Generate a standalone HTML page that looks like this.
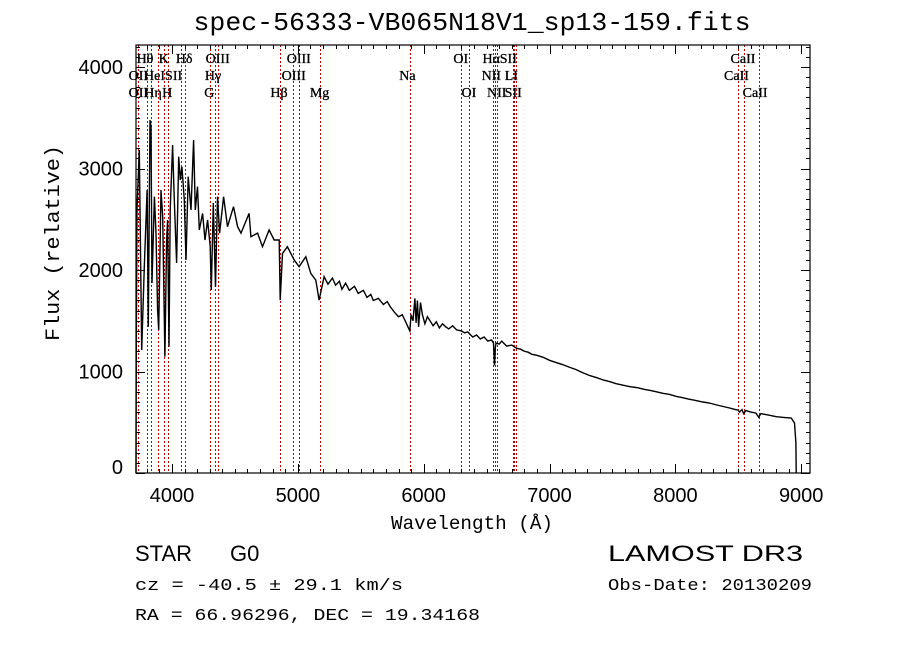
<!DOCTYPE html>
<html><head><meta charset="utf-8"><style>
html,body{margin:0;padding:0;background:#fff;}
svg{display:block;}
</style></head><body>
<svg id="chart" width="900" height="649" viewBox="0 0 900 649" xmlns="http://www.w3.org/2000/svg">
<rect x="0" y="0" width="900" height="649" fill="#fff"/>
<text x="472" y="30" text-anchor="middle" font-family="Liberation Mono, monospace" font-size="26" textLength="557" lengthAdjust="spacingAndGlyphs">spec-56333-VB065N18V1_sp13-159.fits</text>
<g id="lines"></g>
<g id="labels"></g>
<g id="series"></g>
<g id="axes"></g>
<text x="472" y="529" text-anchor="middle" font-family="Liberation Mono, monospace" font-size="19" textLength="162" lengthAdjust="spacingAndGlyphs">Wavelength (Å)</text>
<text transform="translate(59,243) rotate(-90)" text-anchor="middle" font-family="Liberation Mono, monospace" font-size="20" textLength="196" lengthAdjust="spacingAndGlyphs">Flux (relative)</text>
<text x="135" y="561" font-family="Liberation Sans, sans-serif" font-size="22">STAR</text>
<text x="230" y="561" font-family="Liberation Sans, sans-serif" font-size="22">G0</text>
<text x="608" y="561" font-family="Liberation Sans, sans-serif" font-size="22" textLength="195" lengthAdjust="spacingAndGlyphs">LAMOST DR3</text>
<text x="135" y="590" font-family="Liberation Mono, monospace" font-size="17" textLength="268" lengthAdjust="spacingAndGlyphs">cz = -40.5 ± 29.1 km/s</text>
<text x="608" y="590" font-family="Liberation Mono, monospace" font-size="17" textLength="204" lengthAdjust="spacingAndGlyphs">Obs-Date: 20130209</text>
<text x="135" y="620" font-family="Liberation Mono, monospace" font-size="17" textLength="345" lengthAdjust="spacingAndGlyphs">RA =  66.96296, DEC =  19.34168</text>
</svg>
<script>
const wavelengths = [3714,3716,3722,3740,3759,3780,3802,3812,3825,3833,3841,3860,3873,3886,3894,3913,3926,3944,3957,3965,3976,3986,4005,4018,4037,4053,4066,4079,4098,4111,4129,4151,4172,4185,4203,4217,4243,4262,4283,4304,4312,4328,4346,4362,4378,4410,4441,4489,4521,4548,4613,4627,4680,4719,4772,4812,4852,4860,4878,4917,4971,5010,5063,5103,5143,5169,5209,5240,5275,5300,5330,5350,5380,5410,5450,5480,5521,5550,5580,5600,5640,5680,5710,5733,5770,5800,5830,5860,5890,5900,5915,5930,5940,5950,5960,5975,5990,6010,6030,6050,6075,6100,6125,6150,6175,6200,6230,6262,6300,6325,6350,6390,6421,6450,6480,6510,6540,6555,6563,6570,6575,6600,6620,6660,6700,6738,6770,6800,6830,6860,6900,6949,7000,7050,7100,7161,7210,7260,7320,7373,7430,7480,7530,7584,7640,7700,7750,7796,7850,7900,7950,8008,8050,8100,8160,8219,8270,8330,8380,8431,8470,8498,8510,8530,8542,8560,8600,8640,8662,8680,8740,8802,8860,8921,8947,8958,8960];
const fluxes = [0,1250,2600,3182,1212,2032,2788,1441,3478,3411,1872,2722,2364,1606,1409,2788,2525,1146,2296,2493,1244,2591,3232,2690,2069,3116,2887,3018,2690,2099,2919,2591,3281,2591,2821,2394,2558,2296,2493,2230,1803,2660,1835,2722,2364,2722,2427,2624,2427,2364,2558,2328,2364,2230,2394,2296,2296,1704,2164,2230,2099,2033,2131,1967,1901,1704,1934,1860,1920,1850,1890,1810,1870,1800,1840,1770,1800,1730,1760,1700,1720,1660,1690,1640,1580,1540,1560,1480,1400,1560,1500,1720,1480,1700,1440,1680,1560,1470,1540,1500,1450,1490,1430,1470,1440,1420,1450,1410,1400,1380,1390,1340,1360,1320,1340,1300,1310,1280,1060,1240,1280,1270,1300,1250,1260,1230,1220,1200,1190,1170,1160,1140,1110,1090,1070,1040,1020,990,960,940,915,900,880,865,850,840,825,815,800,785,775,755,745,730,715,700,690,670,655,640,628,620,600,625,585,615,600,590,550,585,570,555,548,542,493,300,0];
const lineWaves = [3727,3798,3835,3889,3934,3969,4072,4102,4304,4341,4363,4861,4959,5007,5175,5893,6300,6364,6548,6563,6583,6708,6716,6731,8498,8542,8662];
const labelTexts = ["Hθ","K","Hδ","OIII","OIII","OI","Hα","SII","CaII","OII","HeI","SII","Hγ","OIII","Na","NII","LI","CaII","OII","Hη","H","G","Hβ","Mg","OI","NII","SII","CaII"];
const labelWaves = [3798,3934,4102,4363,5007,6300,6563,6716,8542,3727,3889,4072,4341,4959,5893,6548,6708,8498,3727,3835,3969,4304,4861,5175,6364,6583,6731,8662];
const labelRows = [0,0,0,0,0,0,0,0,0,1,1,1,1,1,1,1,1,1,2,2,2,2,2,2,2,2,2,2];
const labelShift = [-10,-5,-9,-12,-12,-8,-12,-14,-13,-9,-14,-16,-10,-11,-11,-11,-8,-14,-9,-7,-6,-6,-10,-10,-8,-10,-11,-16];
const xTicks = [4000,5000,6000,7000,8000,9000];
const yTicks = [0,1000,2000,3000,4000];

const NS="http://www.w3.org/2000/svg";
const L=136,R=810,T=45,B=473;
const XMIN=3714,XMAX=9070,YMIN=0,YMAX=4217;
function xs(w){return L+(w-XMIN)/(XMAX-XMIN)*(R-L);}
function ys(f){return B-(f-YMIN)/(YMAX-YMIN)*(B-T);}
function mk(tag,attrs,parent){const e=document.createElementNS(NS,tag);for(const k in attrs)e.setAttribute(k,attrs[k]);parent.appendChild(e);return e;}

const gLines=document.getElementById('lines');
lineWaves.forEach(w=>{
  const x=Math.round(xs(w))+0.5;
  const ln=mk('line',{x1:x,x2:x,y1:T,y2:B,stroke:'#c00000','stroke-width':1,'stroke-dasharray':'2,2','shape-rendering':'crispEdges'},gLines);
  
  
});
const gLab=document.getElementById('labels');
labelTexts.forEach((t,i)=>{
  const tx=mk('text',{x:xs(labelWaves[i])+labelShift[i],y:63+labelRows[i]*17,'font-family':'Liberation Serif, serif','font-size':14,stroke:'#000','stroke-width':0.3},gLab);
  tx.textContent=t;
  
  
});
const gS=document.getElementById('series');
const pts=wavelengths.map((w,i)=>xs(w).toFixed(1)+','+ys(fluxes[i]).toFixed(1)).join(' ');
const pl=mk('polyline',{points:pts,fill:'none',stroke:'#000','stroke-width':1.4,'stroke-linejoin':'miter'},gS);



const gA=document.getElementById('axes');
const fr=mk('rect',{x:L,y:T,width:R-L,height:B-T,fill:'none',stroke:'#000','stroke-width':1.2},gA);


for(let w=3800;w<=XMAX;w+=100){
  const major=(w%1000===0);const len=major?9:4;const x=Math.round(xs(w))+0.5;
  mk('line',{x1:x,x2:x,y1:B,y2:B-len,stroke:'#000','stroke-width':1,'shape-rendering':'crispEdges'},gA);
  mk('line',{x1:x,x2:x,y1:T,y2:T+len,stroke:'#000','stroke-width':1,'shape-rendering':'crispEdges'},gA);
}
for(let f=0;f<=YMAX;f+=100){
  const major=(f%1000===0);const len=major?9:4;const y=Math.round(ys(f))+0.5;
  mk('line',{x1:L,x2:L+len,y1:y,y2:y,stroke:'#000','stroke-width':1,'shape-rendering':'crispEdges'},gA);
  mk('line',{x1:R,x2:R-len,y1:y,y2:y,stroke:'#000','stroke-width':1,'shape-rendering':'crispEdges'},gA);
}
xTicks.forEach(v=>{
  const t=mk('text',{x:xs(v),y:502,'text-anchor':'middle','font-family':'Liberation Sans, sans-serif','font-size':20},gA);
  t.textContent=v;
  
  
});
yTicks.forEach(v=>{
  const y=v===0?ys(v)-6:ys(v);
  const t=mk('text',{x:123,y:y+7,'text-anchor':'end','font-family':'Liberation Sans, sans-serif','font-size':20},gA);
  t.textContent=v;
  
  
});
</script>
</body></html>
